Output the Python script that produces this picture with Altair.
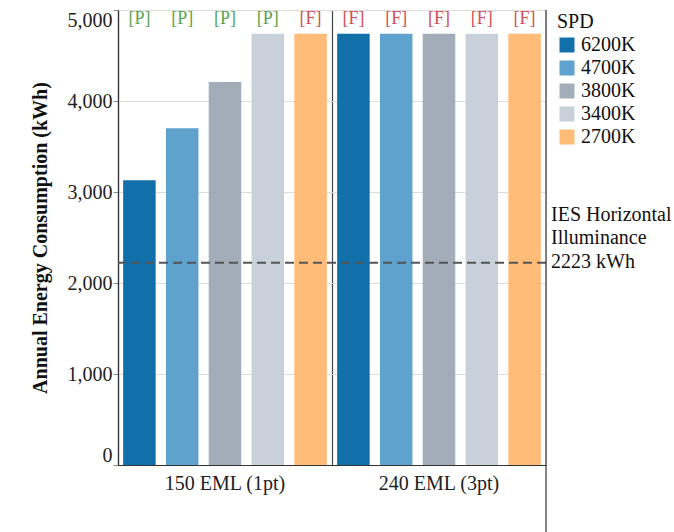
import altair as alt
import pandas as pd

groups = ["150 EML (1pt)"] * 5 + ["240 EML (3pt)"] * 5
spd = ["6200K", "4700K", "3800K", "3400K", "2700K"] * 2
energy = [3130, 3700, 4210, 4740, 4740, 4740, 4740, 4740, 4740, 4740]
result = ["[P]", "[P]", "[P]", "[P]", "[F]", "[F]", "[F]", "[F]", "[F]", "[F]"]

spd_order = ["6200K", "4700K", "3800K", "3400K", "2700K"]
spd_colors = ["#1170aa", "#5fa2ce", "#a3acb9", "#c8d0d9", "#ffbc79"]
ies_value = 2223
ies_text = ["IES Horizontal", "Illuminance", "2223 kWh"]

df = pd.DataFrame({"group": groups, "SPD": spd, "energy": energy, "result": result})

FONT = "Liberation Serif"
W, H = 428, 455

x_enc = alt.X("group:N", title=None,
              scale=alt.Scale(paddingInner=0, paddingOuter=0),
              axis=alt.Axis(labelAngle=0, ticks=False, labelFontSize=20, labelColor="#222",
                            labelFont=FONT, labelPadding=8, grid=True, bandPosition=0,
                            gridColor="#444", gridWidth=1.2, domainColor="#333", domainWidth=1.2))
xo_enc = alt.XOffset("SPD:N", sort=spd_order,
                     scale=alt.Scale(paddingInner=0.24, paddingOuter=0.12))

bars = alt.Chart(df).mark_bar().encode(
    x=x_enc,
    xOffset=xo_enc,
    y=alt.Y("energy:Q", title="Annual Energy Consumption (kWh)",
            scale=alt.Scale(domain=[0, 5000], nice=False),
            axis=alt.Axis(values=[0, 1000, 2000, 3000, 4000, 5000], format=",.0f",
                          labelFontSize=20, labelFont=FONT, labelColor="#222",
                          labelFlush=True,
                          tickSize=5, tickColor="#888", labelPadding=1,
                          titleFont=FONT, titleFontSize=20, titleFontWeight="bold",
                          titleColor="#111", titlePadding=17,
                          gridColor="#dcdcdc", domainColor="#333", domainWidth=1.2)),
    color=alt.Color("SPD:N", sort=spd_order,
                    scale=alt.Scale(domain=spd_order, range=spd_colors),
                    legend=alt.Legend(title="SPD", symbolType="square", symbolSize=225,
                                      symbolStrokeWidth=0, labelFontSize=20, titleFontSize=20,
                                      labelFont=FONT, titleFont=FONT, titleFontWeight="normal",
                                      titleColor="#111", labelColor="#111", rowPadding=3,
                                      offset=9, padding=2, titlePadding=3, labelOffset=4))
)

labels = alt.Chart(df).mark_text(font=FONT, fontSize=18, baseline="middle").encode(
    x=alt.X("group:N"),
    xOffset=alt.XOffset("SPD:N", sort=spd_order),
    y=alt.value(9),
    text="result:N",
    color=alt.Color("result:N", scale=alt.Scale(domain=["[P]", "[F]"], range=["#5aa450", "#d1505a"]),
                    legend=None),
)

ies_df = pd.DataFrame({"v": [ies_value], "t": [ies_text]})
ies_rule = alt.Chart(ies_df).mark_rule(color="#555", strokeDash=[9, 5], strokeWidth=2).encode(
    y="v:Q")
ies_label = alt.Chart(ies_df).mark_text(font=FONT, fontSize=20, align="left", baseline="middle",
                                        lineHeight=23.5, color="#111", dy=-48).encode(
    x=alt.value(W + 5), y="v:Q", text="t")

edge = alt.Chart(ies_df).mark_rule(color="#333", strokeWidth=1.2).encode(
    x=alt.value(W), y=alt.value(0), y2=alt.value(H + 67))

chart = alt.layer(bars, labels, ies_rule, ies_label, edge).resolve_scale(color="independent").properties(
    width=W, height=H,
    autosize=alt.AutoSizeParams(type="none"),
    padding={"left": 118, "top": 10, "right": 128, "bottom": 67},
).configure_view(stroke="#333", strokeWidth=1.2).configure(font=FONT)

chart.save("out.html", embed_options={"renderer": "svg", "actions": False})
